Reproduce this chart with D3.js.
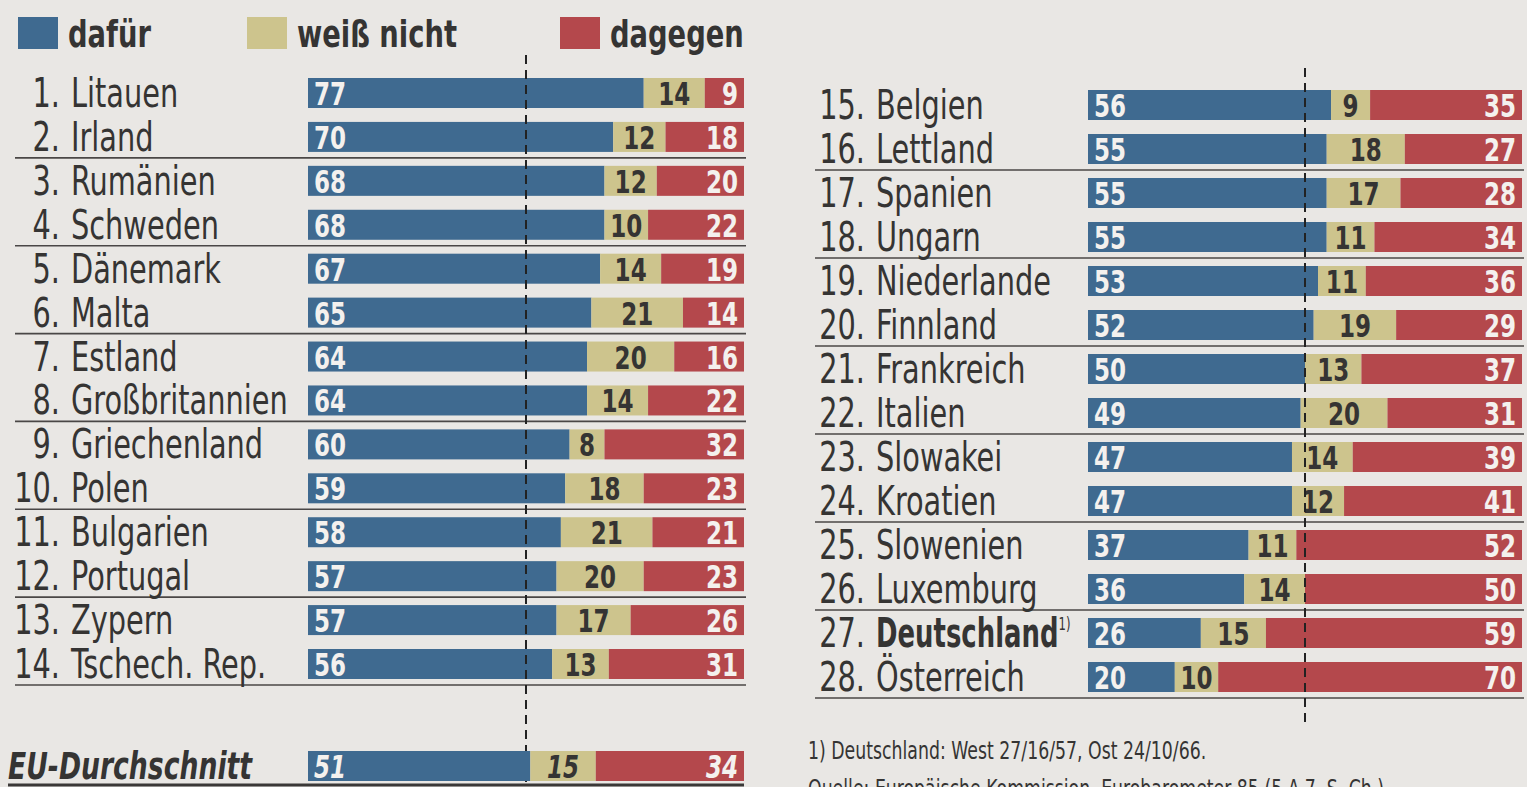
<!DOCTYPE html>
<html>
<head>
<meta charset="utf-8">
<script src="https://cdn.jsdelivr.net/npm/d3@7"></script>
<style>
  body { margin: 0; background: #e9e7e4; }
  svg { display: block; }
  text { font-family: "DejaVu Sans Condensed", "DejaVu Sans", sans-serif; }
</style>
</head>
<body>
<div id="chart"></div>
<script>
const countries = ["Litauen", "Irland", "Rumänien", "Schweden", "Dänemark", "Malta", "Estland",
  "Großbritannien", "Griechenland", "Polen", "Bulgarien", "Portugal", "Zypern", "Tschech. Rep.",
  "Belgien", "Lettland", "Spanien", "Ungarn", "Niederlande", "Finnland", "Frankreich",
  "Italien", "Slowakei", "Kroatien", "Slowenien", "Luxemburg", "Deutschland", "Österreich"];
const dafuer     = [77, 70, 68, 68, 67, 65, 64, 64, 60, 59, 58, 57, 57, 56, 56, 55, 55, 55, 53, 52, 50, 49, 47, 47, 37, 36, 26, 20];
const weissNicht = [14, 12, 12, 10, 14, 21, 20, 14,  8, 18, 21, 20, 17, 13,  9, 18, 17, 11, 11, 19, 13, 20, 14, 12, 11, 14, 15, 10];
const dagegen    = [ 9, 18, 20, 22, 19, 14, 16, 22, 32, 23, 21, 23, 26, 31, 35, 27, 28, 34, 36, 29, 37, 31, 39, 41, 52, 50, 59, 70];
const euAverage  = [51, 15, 34];
const seriesNames = ["dafür", "weiß nicht", "dagegen"];
const colors = ["#3f6a90", "#cdc48d", "#b4484c"];
const footnote = "1) Deutschland: West 27/16/57, Ost 24/10/66.";
const source = "Quelle: Europäische Kommission, Eurobarometer 85 (5.A.7, S. Ch.)";

const width = 1527, height = 787;
const barH = 30;
const ink = "#353433";

const svg = d3.select("#chart").append("svg")
  .attr("width", width).attr("height", height);

// squeeze text horizontally so it looks like the narrow newspaper face
function condense(sel, f) {
  sel.each(function (d) {
    const k = typeof f === "function" ? f(d) : f;
    const w = this.getComputedTextLength();
    d3.select(this).attr("textLength", w * k).attr("lengthAdjust", "spacingAndGlyphs");
  });
}

const rows = countries.map((c, i) => ({
  rank: i + 1, name: c, v: [dafuer[i], weissNicht[i], dagegen[i]]
}));

// legend
const legendX = [18, 247, 560];
seriesNames.forEach((s, i) => {
  svg.append("rect").attr("x", legendX[i]).attr("y", 17).attr("width", 40).attr("height", 32)
    .attr("fill", colors[i]);
  svg.append("text").attr("x", legendX[i] + 50).attr("y", 47)
    .attr("font-size", 38).attr("font-weight", "bold").attr("fill", ink).text(s)
    .call(condense, 0.8);
});

function segments(v) {
  let acc = 0;
  return v.map((d, k) => { const s = { k, x0: acc, x1: acc + d, val: d }; acc += d; return s; });
}

function drawBars(g, data, x, yOf, italic) {
  const row = g.selectAll("g.row").data(data).join("g").attr("class", "row");
  row.selectAll("rect").data(d => segments(d.v).map(s => ({ ...s, y: yOf(d) })))
    .join("rect")
    .attr("x", s => x(s.x0)).attr("width", s => x(s.x1) - x(s.x0))
    .attr("y", s => s.y - barH / 2).attr("height", barH)
    .attr("fill", s => colors[s.k]);
  row.selectAll("text.val").data(d => segments(d.v).map(s => ({ ...s, y: yOf(d) })))
    .join("text").attr("class", "val")
    .attr("x", s => s.k === 0 ? x(s.x0) + 6 : s.k === 1 ? (x(s.x0) + x(s.x1)) / 2 : x(s.x1) - 6)
    .attr("y", s => s.y + 12)
    .attr("text-anchor", s => s.k === 0 ? "start" : s.k === 1 ? "middle" : "end")
    .attr("font-size", 32).attr("font-weight", "bold")
    .attr("font-style", italic ? "italic" : null)
    .attr("fill", s => s.k === 1 ? ink : "#f4f1ee")
    .text(s => s.val)
    .call(condense, 0.8);
}

const panels = [
  { data: rows.slice(0, 14), range: [308, 744], yRange: [93, 664], lineX0: 15, rankX: 60, dashTop: 55, dashBottom: 782 },
  { data: rows.slice(14), range: [1088, 1522], yRange: [105, 677], lineX0: 815, rankX: 865, dashTop: 68, dashBottom: 722 }
];

panels.forEach(p => {
  const x = d3.scaleLinear().domain([0, 100]).range(p.range);
  const y = d3.scalePoint().domain(p.data.map(d => d.name)).range(p.yRange);
  const step = y.step();
  const g = svg.append("g");

  // separator lines after every second row
  g.selectAll("line.sep").data(p.data.filter(d => d.rank % 2 === 0)).join("line")
    .attr("x1", p.lineX0).attr("x2", p.range[1] + 2)
    .attr("y1", d => y(d.name) + step / 2 - 1).attr("y2", d => y(d.name) + step / 2 - 1)
    .attr("stroke", "#4a4746").attr("stroke-width", 1.6);

  drawBars(g, p.data, x, d => y(d.name), false);

  // rank and country labels
  g.selectAll("text.rank").data(p.data).join("text").attr("class", "rank")
    .attr("x", p.rankX).attr("y", d => y(d.name) + 14)
    .attr("text-anchor", "end").attr("font-size", 40).attr("fill", ink)
    .text(d => d.rank + ".")
    .call(condense, 0.8);
  g.selectAll("text.name").data(p.data).join("text").attr("class", "name")
    .attr("x", p.rankX + 11).attr("y", d => y(d.name) + 14)
    .attr("font-size", 40).attr("fill", ink)
    .each(function (d) {
      const t = d3.select(this);
      t.append("tspan").attr("font-weight", d.name === "Deutschland" ? "bold" : null).text(d.name);
      if (d.name === "Deutschland") {
        t.append("tspan").attr("font-size", 18).attr("dy", -17).text("1)");
      }
    })
    .call(condense, d => d.name === "Deutschland" ? 0.72 : 0.8);

  // 50 % reference line
  g.append("line").attr("x1", x(50)).attr("x2", x(50))
    .attr("y1", p.dashTop).attr("y2", p.dashBottom)
    .attr("stroke", "#222").attr("stroke-width", 2).attr("stroke-dasharray", "9,6");

  if (p.rankX === 60) {
    // EU average row
    const yEU = 766;
    drawBars(svg.append("g"), [{ rank: 0, name: "EU", v: euAverage }], x, () => yEU, true);
    svg.append("text").attr("x", 8).attr("y", yEU + 13)
      .attr("font-size", 37).attr("font-weight", "bold").attr("font-style", "italic")
      .attr("fill", ink).text("EU-Durchschnitt")
      .call(condense, 0.8);
    svg.append("line").attr("x1", 8).attr("x2", 744).attr("y1", 785).attr("y2", 785)
      .attr("stroke", "#3a3837").attr("stroke-width", 3);
  }
});

// footnote and source (source line runs off the bottom edge, as in the clipping)
svg.append("text").attr("x", 808).attr("y", 759).attr("font-size", 25).attr("fill", ink).text(footnote)
  .call(condense, 0.77);
svg.append("text").attr("x", 808).attr("y", 797).attr("font-size", 25).attr("fill", ink).text(source)
  .call(condense, 0.77);
</script>
</body>
</html>
